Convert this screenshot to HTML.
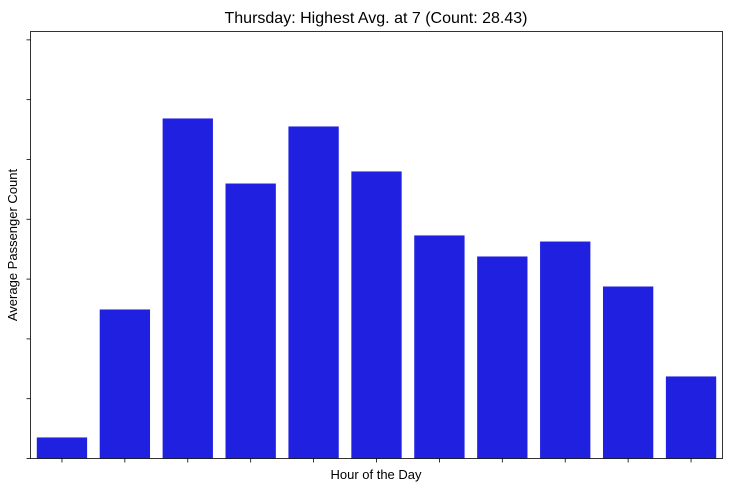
<!DOCTYPE html>
<html><head><meta charset="utf-8"><style>
body{margin:0;background:#fff;font-family:"Liberation Sans","DejaVu Sans",sans-serif;}
</style></head><body>
<svg id="chart" width="730" height="485" xmlns="http://www.w3.org/2000/svg"></svg>
<script>
const hours = [5,6,7,8,9,10,11,12,13,14,15];
const avgCounts = [1.76,12.46,28.43,22.99,27.76,24.00,18.65,16.89,18.14,14.38,6.86];
const yTicks = [0,5,10,15,20,25,30,35];

const svg = document.getElementById('chart');
const NS = 'http://www.w3.org/2000/svg';
const L=30.5, R=722.5, T=31.5, B=458.5, yMax=35.7;
const bandW = (R-L)/hours.length;
const x = i => L + bandW*i;
const y = v => B - (v/yMax)*(B-T);
function mk(tag, attrs){const e=document.createElementNS(NS,tag);for(const k in attrs)e.setAttribute(k,attrs[k]);svg.appendChild(e);return e;}

hours.forEach((h,i)=>{
  const v = avgCounts[i];
  const r = mk('rect',{x:x(i)+bandW*0.1,y:y(v),width:bandW*0.8,height:B-y(v),fill:'#2020e0'});
  
  
  const t = mk('line',{x1:x(i)+bandW/2,x2:x(i)+bandW/2,y1:B,y2:B+4,stroke:'#000','stroke-width':0.8});
  
  
});
yTicks.forEach(v=>{
  const t = mk('line',{x1:L-4,x2:L,y1:y(v),y2:y(v),stroke:'#000','stroke-width':0.8});
  
  
});
const frame = mk('rect',{x:L,y:T,width:R-L,height:B-T,fill:'none',stroke:'#000','stroke-width':0.8});


const title = mk('text',{x:376,y:23,'text-anchor':'middle','font-size':16});
title.textContent='Thursday: Highest Avg. at 7 (Count: 28.43)';


const xl = mk('text',{x:376,y:479,'text-anchor':'middle','font-size':13});
xl.textContent='Hour of the Day';


const yl = mk('text',{x:17,y:245,'text-anchor':'middle','font-size':13,transform:'rotate(-90 17 245)'});
yl.textContent='Average Passenger Count';


</script>
</body></html>
